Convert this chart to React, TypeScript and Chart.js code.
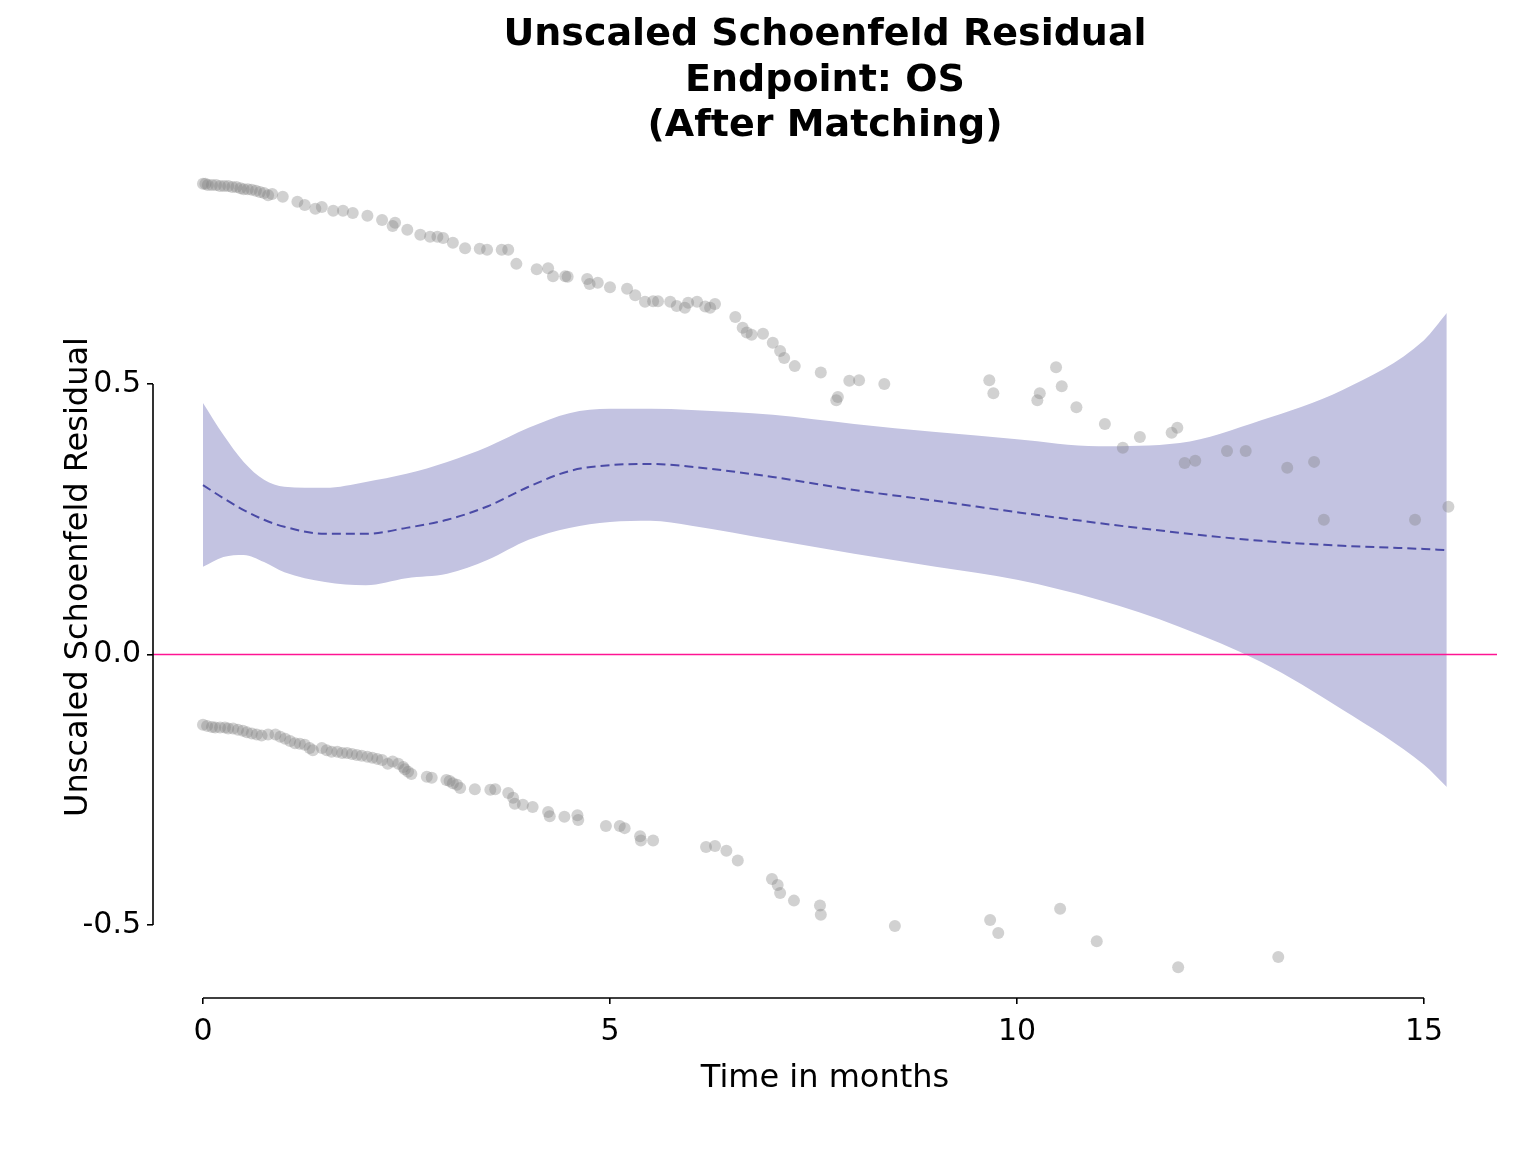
import React, { useEffect, useRef } from 'react';
import { Chart, registerables } from 'chart.js';

Chart.register(...registerables);

// ---------- data ----------
const titleLines = ['Unscaled Schoenfeld Residual', 'Endpoint: OS', '(After Matching)'];
const xAxisTitle = 'Time in months';
const yAxisTitle = 'Unscaled Schoenfeld Residual';

const xTicks = [0, 5, 10, 15];
const yTicks = [-0.5, 0, 0.5];
const xLimits = [-0.614, 15.897];
const yLimits = [-0.635, 0.9214];
const refLineValue = 0;

// residuals of the treated (upper band)
const upperTime = [
  0.0, 0.03, 0.06, 0.11, 0.16, 0.21, 0.26, 0.31, 0.36, 0.41, 0.46, 0.5, 0.55, 0.6, 0.65, 0.7, 0.75, 0.8, 0.85,
  0.98, 1.16, 1.25, 1.38, 1.46, 1.6, 1.72, 1.84, 2.02, 2.2, 2.33, 2.36, 2.51, 2.67, 2.79, 2.88, 2.95, 3.07, 3.22,
  3.4, 3.49, 3.67, 3.75, 3.85, 4.1, 4.24, 4.3, 4.45, 4.48, 4.72, 4.75, 4.85, 5.0, 5.21, 5.31, 5.43, 5.53, 5.59,
  5.74, 5.82, 5.92, 5.96, 6.07, 6.17, 6.23, 6.29, 6.54, 6.63, 6.68, 6.74, 6.88, 7.0, 7.09, 7.14, 7.27, 7.59,
  7.78, 7.8, 7.94, 8.06, 8.37, 9.66, 9.71, 10.25, 10.28, 10.48, 10.55, 10.73, 11.08, 11.3, 11.51, 11.9, 11.97,
  12.06, 12.19, 12.58, 12.81, 13.32, 13.65, 13.77, 14.89, 15.3,
];
const upperResid = [
  0.87, 0.87, 0.868, 0.868, 0.868, 0.866, 0.866, 0.866, 0.864, 0.864, 0.862, 0.86, 0.86, 0.859, 0.857, 0.855,
  0.853, 0.849, 0.851, 0.846, 0.837, 0.831, 0.824, 0.827, 0.82, 0.82, 0.816, 0.811, 0.803, 0.792, 0.798, 0.785,
  0.776, 0.772, 0.772, 0.77, 0.761, 0.751, 0.75, 0.748, 0.748, 0.748, 0.722, 0.712, 0.714, 0.699, 0.699, 0.698,
  0.694, 0.685, 0.687, 0.679, 0.676, 0.664, 0.652, 0.653, 0.653, 0.652, 0.644, 0.641, 0.65, 0.652, 0.643, 0.641,
  0.648, 0.624, 0.604, 0.595, 0.591, 0.593, 0.576, 0.561, 0.548, 0.533, 0.521, 0.47, 0.476, 0.506, 0.507, 0.5,
  0.507, 0.483, 0.47, 0.483, 0.531, 0.496, 0.457, 0.426, 0.382, 0.402, 0.41, 0.419, 0.354, 0.358, 0.376, 0.376,
  0.345, 0.356, 0.249, 0.249, 0.273,
];

// residuals of the controls (lower band)
const lowerTime = [
  0.0, 0.05, 0.11, 0.15, 0.21, 0.27, 0.31, 0.37, 0.43, 0.49, 0.54, 0.6, 0.66, 0.72, 0.8, 0.89, 0.95, 1.01, 1.07,
  1.13, 1.19, 1.25, 1.31, 1.35, 1.46, 1.52, 1.58, 1.65, 1.71, 1.77, 1.83, 1.89, 1.95, 2.02, 2.08, 2.14, 2.2,
  2.27, 2.33, 2.4, 2.46, 2.48, 2.52, 2.56, 2.75, 2.81, 2.99, 3.03, 3.07, 3.12, 3.16, 3.34, 3.53, 3.59, 3.75,
  3.81, 3.83, 3.93, 4.05, 4.24, 4.26, 4.44, 4.6, 4.61, 4.95, 5.12, 5.18, 5.37, 5.38, 5.53, 6.18, 6.29, 6.43,
  6.57, 6.99, 7.06, 7.09, 7.26, 7.58, 7.59, 8.5, 9.67, 9.77, 10.53, 10.98, 11.98, 13.21,
];
const lowerResid = [
  -0.13, -0.132, -0.134, -0.135, -0.135, -0.135, -0.137, -0.137, -0.139, -0.141, -0.144, -0.146, -0.148, -0.15,
  -0.148, -0.148, -0.152, -0.156, -0.16, -0.164, -0.165, -0.167, -0.173, -0.177, -0.173, -0.177, -0.18, -0.18,
  -0.182, -0.182, -0.184, -0.186, -0.187, -0.189, -0.191, -0.193, -0.195, -0.202, -0.198, -0.202, -0.208,
  -0.212, -0.217, -0.221, -0.226, -0.228, -0.232, -0.234, -0.238, -0.241, -0.247, -0.249, -0.25, -0.249,
  -0.256, -0.265, -0.276, -0.278, -0.282, -0.291, -0.299, -0.3, -0.297, -0.306, -0.317, -0.317, -0.321,
  -0.336, -0.344, -0.344, -0.356, -0.354, -0.363, -0.381, -0.415, -0.426, -0.441, -0.455, -0.464, -0.481,
  -0.502, -0.491, -0.515, -0.47, -0.53, -0.578, -0.559,
];

// smoothed fit with confidence band
const fitTime = [0, 0.25, 0.5, 0.75, 1, 1.5, 2, 2.5, 3, 3.5, 4, 4.5, 5, 5.5, 6, 7, 8, 9, 10, 11, 12, 13, 14, 15, 15.28];
const fitMid = [
  0.313, 0.289, 0.267, 0.249, 0.236, 0.223, 0.223, 0.234, 0.249, 0.274, 0.31, 0.339, 0.35, 0.352, 0.347, 0.328,
  0.304, 0.284, 0.263, 0.243, 0.225, 0.21, 0.201, 0.195, 0.193,
];
const fitUpper = [
  0.465, 0.406, 0.356, 0.323, 0.31, 0.308, 0.319, 0.334, 0.356, 0.384, 0.419, 0.446, 0.454, 0.454, 0.452, 0.443,
  0.426, 0.411, 0.398, 0.385, 0.391, 0.433, 0.489, 0.581, 0.631,
];
const fitLower = [
  0.162, 0.18, 0.184, 0.171, 0.152, 0.134, 0.128, 0.141, 0.149, 0.175, 0.212, 0.234, 0.245, 0.247, 0.238, 0.212,
  0.186, 0.162, 0.138, 0.101, 0.051, -0.014, -0.102, -0.204, -0.245,
];

// ---------- styles ----------
const FONT = 'DejaVu Sans';
const POINT_COLOR = 'rgba(128,128,128,0.36)';
const BAND_COLOR = '#c3c3e1';
const LINE_COLOR = '#4a4aa6';
const REF_COLOR = '#ff1493';

const zip = (xs: number[], ys: number[]) => xs.map((x, i) => ({ x, y: ys[i] }));

const lemonAxes = {
  id: 'lemonAxes',
  afterDraw(chart: any) {
    const { ctx, chartArea, scales } = chart;
    const x = scales.x;
    const y = scales.y;
    ctx.save();
    ctx.strokeStyle = '#000';
    ctx.lineWidth = 1.6;
    ctx.beginPath();
    ctx.moveTo(chartArea.left, y.getPixelForValue(yTicks[0]));
    ctx.lineTo(chartArea.left, y.getPixelForValue(yTicks[yTicks.length - 1]));
    ctx.moveTo(x.getPixelForValue(xTicks[0]), chartArea.bottom);
    ctx.lineTo(x.getPixelForValue(xTicks[xTicks.length - 1]), chartArea.bottom);
    ctx.stroke();
    ctx.restore();
  },
};

export default function App() {
  const ref = useRef<HTMLCanvasElement>(null);

  useEffect(() => {
    if (!ref.current) return;
    const chart = new Chart(ref.current, {
      type: 'line',
      data: {
        datasets: [
          {
            label: 'upper residuals',
            data: zip(upperTime, upperResid),
            showLine: false,
            pointRadius: 6,
            pointBorderWidth: 0,
            pointBackgroundColor: POINT_COLOR,
            pointBorderColor: 'rgba(0,0,0,0)',
          },
          {
            label: 'lower residuals',
            data: zip(lowerTime, lowerResid),
            showLine: false,
            pointRadius: 6,
            pointBorderWidth: 0,
            pointBackgroundColor: POINT_COLOR,
            pointBorderColor: 'rgba(0,0,0,0)',
          },
          {
            label: 'reference',
            data: [
              { x: xLimits[0], y: refLineValue },
              { x: xLimits[1], y: refLineValue },
            ],
            borderColor: REF_COLOR,
            borderWidth: 1.6,
            pointRadius: 0,
            fill: false,
          },
          {
            label: 'fit',
            data: zip(fitTime, fitMid),
            borderColor: LINE_COLOR,
            borderWidth: 2,
            borderDash: [9, 5],
            pointRadius: 0,
            cubicInterpolationMode: 'monotone',
            fill: false,
          },
          {
            label: 'upper CI',
            data: zip(fitTime, fitUpper),
            borderWidth: 0,
            borderColor: 'rgba(0,0,0,0)',
            backgroundColor: BAND_COLOR,
            pointRadius: 0,
            cubicInterpolationMode: 'monotone',
            fill: '+1',
          },
          {
            label: 'lower CI',
            data: zip(fitTime, fitLower),
            borderWidth: 0,
            borderColor: 'rgba(0,0,0,0)',
            pointRadius: 0,
            cubicInterpolationMode: 'monotone',
            fill: false,
          },
        ],
      },
      options: {
        animation: false,
        responsive: false,
        maintainAspectRatio: false,
        devicePixelRatio: 1,
        layout: { padding: { left: 0, right: 39, top: 0, bottom: 0 } },
        plugins: {
          legend: { display: false },
          tooltip: { enabled: false },
          title: {
            display: true,
            text: titleLines,
            fullSize: false,
            color: '#000',
            font: { family: FONT, size: 38, weight: 'bold', lineHeight: 1.2 },
            padding: { top: 12.5, bottom: 6.7 },
          },
        },
        scales: {
          x: {
            type: 'linear',
            min: xLimits[0],
            max: xLimits[1],
            border: { display: false },
            grid: { display: true, drawOnChartArea: false, drawTicks: true, tickLength: 6, color: '#000', lineWidth: 1.6 },
            afterBuildTicks: (scale: any) => {
              scale.ticks = xTicks.map((v) => ({ value: v }));
            },
            afterFit: (scale: any) => {
              scale.height = 154;
            },
            ticks: {
              autoSkip: false,
              maxRotation: 0,
              padding: 10,
              color: '#000',
              font: { family: FONT, size: 30 },
              callback: (v: any) => String(v),
            },
            title: {
              display: true,
              text: xAxisTitle,
              color: '#000',
              font: { family: FONT, size: 32, lineHeight: 1.2 },
              padding: { top: 0, bottom: 54 },
            },
          },
          y: {
            type: 'linear',
            min: yLimits[0],
            max: yLimits[1],
            border: { display: false },
            grid: { display: true, drawOnChartArea: false, drawTicks: true, tickLength: 6, color: '#000', lineWidth: 1.6 },
            afterBuildTicks: (scale: any) => {
              scale.ticks = yTicks.map((v) => ({ value: v }));
            },
            afterFit: (scale: any) => {
              scale.width = 153;
            },
            ticks: {
              autoSkip: false,
              padding: 6,
              color: '#000',
              font: { family: FONT, size: 30 },
              callback: (v: any) => Number(v).toFixed(1),
            },
            title: {
              display: true,
              text: yAxisTitle,
              color: '#000',
              font: { family: FONT, size: 32, lineHeight: 1.2 },
              padding: { top: 59, bottom: 0 },
            },
          },
        },
      } as any,
      plugins: [lemonAxes],
    } as any);
    return () => chart.destroy();
  }, []);

  return (
    <div style={{ position: 'absolute', left: 0, top: 0, width: 1536, height: 1152, background: '#fff' }}>
      <canvas ref={ref} width={1536} height={1152} style={{ display: 'block', width: 1536, height: 1152 }} />
    </div>
  );
}
